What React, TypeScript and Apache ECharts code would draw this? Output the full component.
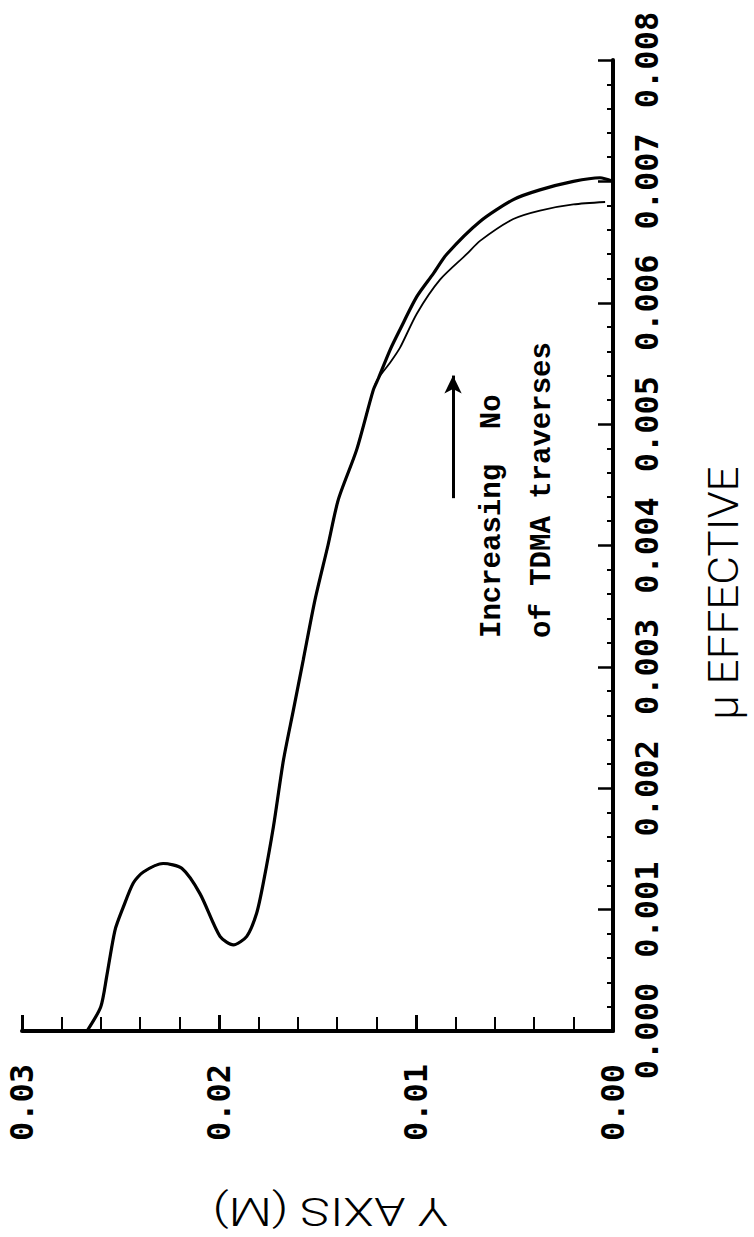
import React, { useEffect, useRef } from "react";
import * as echarts from "echarts";

// Y position (m) along the wall and effective viscosity, shared lower part of both curves
const sharedY = [0.0267, 0.0260, 0.0257, 0.02528, 0.02486, 0.02435, 0.02384, 0.02283, 0.02189, 0.02096, 0.01995, 0.01927, 0.01859, 0.01809, 0.01775, 0.01724, 0.01673, 0.01623, 0.01572, 0.01513, 0.01447, 0.01394, 0.01301, 0.01217, 0.0119];
const sharedMu = [0.0, 0.0002, 0.00045, 0.00083, 0.00102, 0.00122, 0.00131, 0.00138, 0.00134, 0.00113, 0.00078, 0.00071, 0.00078, 0.00097, 0.00122, 0.00168, 0.00223, 0.00264, 0.00306, 0.00355, 0.0040, 0.00438, 0.00479, 0.00528, 0.00538];

// upper branch, more TDMA traverses (thick line)
const thickY = [0.01132, 0.01081, 0.00996, 0.00912, 0.00844, 0.00675, 0.00506, 0.00371, 0.00201, 0.00066, 0.0];
const thickMu = [0.00561, 0.00578, 0.00605, 0.00624, 0.0064, 0.00667, 0.00685, 0.00693, 0.007, 0.00703, 0.007];

// upper branch, fewer TDMA traverses (thin line)
const thinY = [0.0113, 0.01081, 0.00996, 0.00878, 0.00743, 0.00675, 0.00506, 0.00371, 0.00201, 0.0004];
const thinMu = [0.00551, 0.00563, 0.00591, 0.00619, 0.0064, 0.00651, 0.00669, 0.00676, 0.00681, 0.00683];

// arrow annotation (Y position, mu from -> to)
const arrowY = 0.00812;
const arrowMu = [0.00439, 0.0054];

const yAxisTickLabels = ["0.00", "0.01", "0.02", "0.03"];
const muTickLabels = ["0.000", "0.001", "0.002", "0.003", "0.004", "0.005", "0.006", "0.007", "0.008"];

const toPairs = (xs: number[], ys: number[]) => xs.map((x, i) => [x, ys[i]]);

export default function App() {
  const ref = useRef<HTMLDivElement>(null);
  useEffect(() => {
    if (!ref.current) return;
    const chart = echarts.init(ref.current, undefined, { renderer: "svg" });
    const tickFont = {
      fontFamily: "DejaVu Sans Mono",
      fontWeight: "bold" as const,
      fontSize: 32,
      color: "#000",
    };
    chart.setOption({
      animation: false,
      backgroundColor: "#fff",
      grid: { left: 22, right: 141, top: 60, bottom: 206, containLabel: false },
      xAxis: {
        type: "value",
        min: 0,
        max: 0.03,
        interval: 0.01,
        inverse: true,
        position: "bottom",
        axisLine: { show: true, onZero: false, lineStyle: { color: "#000", width: 4 } },
        axisTick: { show: true, inside: true, length: 16, lineStyle: { color: "#000", width: 3 } },
        minorTick: { show: true, splitNumber: 5, length: 14, lineStyle: { color: "#000", width: 2 } },
        splitLine: { show: false },
        minorSplitLine: { show: false },
        axisLabel: {
          ...tickFont,
          rotate: 90,
          margin: 33,
          formatter: (v: number) => yAxisTickLabels[Math.round(v * 100)] ?? "",
        },
      },
      yAxis: {
        type: "value",
        min: 0,
        max: 0.008,
        interval: 0.001,
        position: "right",
        axisLine: { show: true, onZero: false, lineStyle: { color: "#000", width: 4 } },
        axisTick: { show: true, inside: true, length: 15, lineStyle: { color: "#000", width: 2.5 } },
        minorTick: { show: true, splitNumber: 5, length: 6, lineStyle: { color: "#000", width: 2 } },
        splitLine: { show: false },
        minorSplitLine: { show: false },
        axisLabel: {
          ...tickFont,
          rotate: 90,
          margin: 18,
          formatter: (v: number) => muTickLabels[Math.round(v * 1000)] ?? "",
        },
      },
      series: [
        {
          type: "line",
          name: "fewer traverses",
          data: toPairs(sharedY.concat(thinY), sharedMu.concat(thinMu)),
          showSymbol: false,
          smooth: 0.25,
          lineStyle: { color: "#000", width: 1.8 },
        },
        {
          type: "line",
          name: "more traverses",
          data: toPairs(sharedY.concat(thickY), sharedMu.concat(thickMu)),
          showSymbol: false,
          smooth: 0.25,
          lineStyle: { color: "#000", width: 3.2 },
          markLine: {
            silent: true,
            symbol: ["none", "arrow"],
            symbolSize: [13, 18],
            label: { show: false },
            lineStyle: { color: "#000", width: 3, type: "solid" },
            data: [
              [
                { coord: [arrowY, arrowMu[0]] },
                { coord: [arrowY, arrowMu[1]] },
              ],
            ],
          },
        },
      ],
      graphic: [
        {
          type: "text",
          x: 492,
          y: 638,
          rotation: Math.PI / 2,
          style: {
            text: "Increasing  No",
            font: 'bold 29px "Liberation Mono"',
            fill: "#000",
            textAlign: "left",
            textVerticalAlign: "middle",
          },
        },
        {
          type: "text",
          x: 542,
          y: 638,
          rotation: Math.PI / 2,
          style: {
            text: "of TDMA traverses",
            font: 'bold 29px "Liberation Mono"',
            fill: "#000",
            textAlign: "left",
            textVerticalAlign: "middle",
          },
        },
        {
          type: "text",
          x: 724,
          y: 593,
          rotation: Math.PI / 2,
          scaleX: 1.05,
          style: {
            text: "μ EFFECTIVE",
            font: '300 42px Roboto',
            fill: "#000",
            textAlign: "center",
            textVerticalAlign: "middle",
          },
        },
        {
          type: "text",
          x: 330,
          y: 1211,
          rotation: Math.PI,
          scaleX: 1.32,
          style: {
            text: "Y AXIS (M)",
            font: '300 38px Roboto',
            fill: "#000",
            textAlign: "center",
            textVerticalAlign: "middle",
          },
        },
      ],
    });
    return () => chart.dispose();
  }, []);
  return (
    <div
      ref={ref}
      style={{ position: "absolute", left: 0, top: 0, width: 754, height: 1237 }}
    />
  );
}
